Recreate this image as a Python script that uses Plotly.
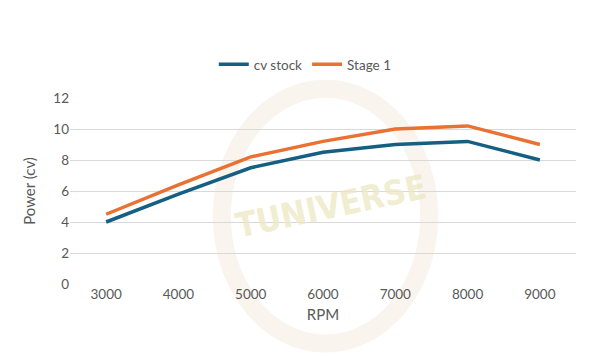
import plotly.graph_objects as go

rpm = ["3000", "4000", "5000", "6000", "7000", "8000", "9000"]
cv_stock = [4.0, 5.8, 7.5, 8.5, 9.0, 9.2, 8.0]
stage1 = [4.5, 6.4, 8.2, 9.2, 10.0, 10.2, 9.0]
y_ticks = [0, 2, 4, 6, 8, 10, 12]

FONT = "Lato, 'Open Sans', sans-serif"
GRAY = "#595959"

fig = go.Figure()
fig.add_trace(go.Scatter(x=rpm, y=cv_stock, mode="lines", name="cv stock",
                         line=dict(color="#156082", width=3.5)))
fig.add_trace(go.Scatter(x=rpm, y=stage1, mode="lines", name="Stage 1",
                         line=dict(color="#E97132", width=3.5)))

# watermark
fig.add_shape(type="circle", xref="paper", yref="paper",
              x0=0.30, x1=0.71, y0=-0.32, y1=1.05,
              line=dict(color="rgba(225,200,165,0.2)", width=18), layer="below")
fig.add_annotation(text="<b>TUNIVERSE</b>", xref="paper", yref="paper",
                   x=0.515, y=0.42, showarrow=False, textangle=-12,
                   font=dict(family="'DejaVu Sans Condensed', 'DejaVu Sans', sans-serif",
                             size=34, color="rgba(238,232,195,0.8)"))

fig.update_layout(
    width=591, height=356,
    margin=dict(l=62, r=23, t=90, b=80),
    paper_bgcolor="white", plot_bgcolor="white",
    font=dict(family=FONT, color=GRAY, size=13),
    showlegend=True,
    legend=dict(orientation="h", x=0.465, xanchor="center", y=1.18, yanchor="middle",
                font=dict(size=13.5, color=GRAY), bgcolor="rgba(0,0,0,0)",
                itemwidth=30),
    xaxis=dict(type="category", range=[-0.5, 6.5], showgrid=False, zeroline=False,
               showline=False, ticks="", tickfont=dict(size=13.5, color=GRAY),
               title=dict(text="RPM", font=dict(size=15, color=GRAY), standoff=8)),
    yaxis=dict(range=[0, 12], tickvals=y_ticks, showgrid=True, gridcolor="#D9D9D9",
               gridwidth=1, zeroline=False, showline=False, ticks="",
               tickfont=dict(size=13.5, color=GRAY),
               title=dict(text="Power (cv)", font=dict(size=15, color=GRAY), standoff=14)),
)

fig.write_html("out.html")
